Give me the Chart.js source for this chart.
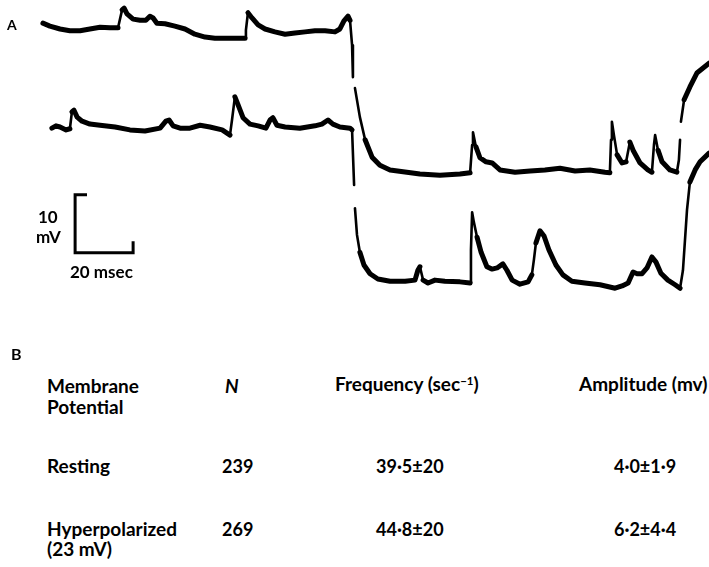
<!DOCTYPE html>
<html>
<head>
<meta charset="utf-8">
<script src="https://cdn.jsdelivr.net/npm/chart.js@4/dist/chart.umd.min.js"></script>
<style>
  html, body { margin: 0; padding: 0; background: #fff; }
  body { width: 709px; height: 567px; position: relative; overflow: hidden; font-family: Lato, "Open Sans", sans-serif; color: #000; }
  #wrap { position: absolute; left: 0; top: 0; width: 709px; height: 330px; }
  .t { position: absolute; white-space: nowrap; font-weight: 700; line-height: 1; }
  sup { font-size: 60%; vertical-align: 0; position: relative; top: -0.55em; }
</style>
</head>
<body>
<div id="wrap"><canvas id="c" width="709" height="330"></canvas></div>
<div id="labels"></div>
<script>
// ---- Panel A: two intracellular traces (time in ms, potential in mV, display offsets) ----
const trace1Time = [14.8,17.2,20.7,24.1,27.6,31.0,34.5,37.9,40.7,42.1,42.8,43.8,45.9,48.3,50.3,51.7,52.8,54.1,56.9,60.3,63.8,67.2,70.7,74.1,79.3,84.5,84.8,85.5,86.9,89.0,91.4,94.8,98.3,101.7,105.2,108.6,112.1,115.5,117.2,118.6,120.0,120.7,121.4,121.7,122.0,122.4,124.1,125.9,128.3,131.0,134.5,140.3,144.8,151.7,158.6,162.1,162.8,163.1,164.1,165.5,167.6,169.7,172.4,177.6,182.8,187.9,193.1,198.3,203.4,208.6,210.3,210.7,211.0,211.7,212.8,214.5,215.9,217.2,218.3,220.7,223.4,224.8,225.5,225.9,226.9,228.3,231.0,233.4,234.1,234.5,234.6,234.8,235.9,237.9,240.3,244.5];
const trace1Volt = [52.9,52.4,51.9,51.6,51.6,51.9,52.2,52.1,52.1,55.2,55.5,54.5,53.6,53.4,53.4,54.1,53.8,52.9,52.8,52.4,51.9,51.0,50.5,50.3,50.3,50.3,51.7,54.7,53.8,52.6,51.9,51.4,51.0,51.2,51.4,51.6,51.6,51.4,51.9,53.3,54.1,53.4,49.1,43.6,null,41.7,36.7,32.8,29.8,28.4,27.6,27.2,26.9,26.7,26.9,27.1,31.9,34.1,31.6,29.7,29.0,28.8,27.6,27.2,27.4,27.6,27.9,27.4,27.6,27.2,27.1,32.8,35.9,33.6,30.2,28.8,29.0,32.4,31.0,28.8,27.6,27.2,31.9,33.6,31.0,29.0,27.6,27.2,29.3,32.8,null,35.9,39.7,41.9,44.3,46.0];

const trace2Time = [17.9,19.3,20.7,22.8,24.1,24.8,25.5,26.6,28.3,31.0,34.5,39.7,44.8,50.0,55.2,57.2,58.3,59.7,62.1,65.5,69.0,72.4,76.6,79.3,80.0,81.0,82.1,83.8,86.2,89.0,91.7,93.1,94.1,95.5,98.3,103.4,108.6,111.0,113.1,114.8,117.2,120.7,121.4,122.1,122.3,122.4,123.1,124.1,125.5,127.6,130.3,134.5,139.7,143.1,144.1,144.8,145.9,147.6,150.0,153.4,158.6,162.1,162.4,162.8,163.4,164.5,165.9,167.9,169.7,171.4,173.4,174.8,176.6,179.3,182.1,183.4,184.1,184.8,186.2,187.6,189.3,191.7,194.1,197.2,201.7,206.9,212.1,214.5,216.6,218.3,219.7,221.4,223.1,224.8,226.2,227.9,230.3,232.8,234.5,235.5,236.2,236.9,237.9,239.7,241.4,244.5];
const trace2Volt = [34.8,35.2,35.0,34.5,34.7,37.6,37.9,36.7,36.0,35.5,35.3,35.0,34.5,34.3,34.8,36.0,36.2,35.2,34.8,34.8,35.3,35.0,34.5,33.6,36.2,40.2,38.8,36.6,35.5,35.2,34.8,36.2,36.6,35.3,35.0,34.8,35.2,35.5,36.2,35.5,35.0,34.8,34.5,25.0,null,21.0,16.4,13.4,11.2,9.7,8.8,8.4,8.4,8.6,10.3,10.9,8.6,8.1,8.6,8.4,8.3,8.1,13.8,20.3,18.6,16.0,13.4,10.9,10.5,10.7,11.4,10.3,8.6,7.9,8.3,9.5,12.1,15.0,17.1,16.2,13.8,11.2,9.5,8.4,8.1,7.8,7.2,7.6,8.1,10.0,9.7,9.7,10.7,12.6,11.7,9.8,8.6,7.8,7.2,10.3,15.5,20.7,25.5,27.6,29.0,30.5];

// Calibration bar: 10 mV by 20 msec
const barTime = [30.0, 25.9, 25.9, 45.9, 45.9];
const barVolt = [23.3, 23.3, 13.3, 13.3, 15.3];
const barLabels = ["10", "mV", "20 msec"];

// ---- Panel B: table ----
const tableHeaders = ["Membrane\nPotential", "N", "Frequency (sec-1)", "Amplitude (mv)"];
const conditions = ["Resting", "Hyperpolarized\n(23 mV)"];
const nValues = ["239", "269"];
const frequencies = ["39\u00B75\u00B120", "44\u00B78\u00B120"];
const amplitudes = ["4\u00B70\u00B11\u00B79", "6\u00B72\u00B14\u00B74"];

const pts = (t, v) => t.map((x, i) => ({ x: x, y: v[i] }));
const thinSteep = {
  borderWidth: ctx => {
    const dx = Math.abs(ctx.p1.x - ctx.p0.x), dy = Math.abs(ctx.p1.y - ctx.p0.y);
    return (dy > 4 * dx && dy > 8) ? 2.6 : undefined;
  }
};
const lineStyle = {
  borderColor: '#000', backgroundColor: '#000', pointRadius: 0, tension: 0,
  fill: false, clip: false, borderCapStyle: 'round', borderJoinStyle: 'round', spanGaps: false
};

new Chart(document.getElementById('c'), {
  type: 'line',
  data: {
    datasets: [
      Object.assign({ label: 'Trace 1', data: pts(trace1Time, trace1Volt), borderWidth: 5, segment: thinSteep }, lineStyle),
      Object.assign({ label: 'Trace 2', data: pts(trace2Time, trace2Volt), borderWidth: 5, segment: thinSteep }, lineStyle),
      Object.assign({}, lineStyle, { label: 'Calibration', data: pts(barTime, barVolt), borderWidth: 3, borderCapStyle: 'butt', borderJoinStyle: 'miter' })
    ]
  },
  options: {
    responsive: false,
    animation: false,
    devicePixelRatio: 1,
    layout: { padding: 0 },
    plugins: { legend: { display: false }, tooltip: { enabled: false }, colors: { enabled: false } },
    scales: {
      x: { type: 'linear', min: 0, max: 709 / 2.9, display: false },
      y: { type: 'linear', min: 0, max: 330 / 5.8, display: false }
    }
  }
});

// ---- text placement ----
const L = document.getElementById('labels');
function put(html, x, base, size, extra) {
  const d = document.createElement('div');
  d.className = 't';
  d.style.left = x + 'px';
  d.style.top = (base - Math.round(size * 0.89)) + 'px';
  d.style.fontSize = size + 'px';
  if (extra) d.style.cssText += extra;
  d.innerHTML = html;
  L.appendChild(d);
}
put('A', 7, 30, 14);
put(barLabels[0], 38, 223, 17);
put(barLabels[1], 36, 243, 17);
put(barLabels[2], 70, 278, 17);

put('B', 11, 360, 16);
const hs = 19, ns = 18;
const h0 = tableHeaders[0].split('\n');
put(h0[0], 47, 393, hs);
put(h0[1], 47, 414, hs);
put(tableHeaders[1], 225, 393, hs, 'font-style:italic;');
put(tableHeaders[2].replace('sec-1', 'sec<sup>\u22121</sup>'), 335, 391, hs);
put(tableHeaders[3], 579, 391, hs);
const rowBase = [473, 536];
conditions.forEach((c, i) => {
  const parts = c.split('\n');
  put(parts[0], 47, rowBase[i], hs);
  if (parts[1]) put(parts[1], 47, rowBase[i] + 20, hs);
  put(nValues[i], 222, rowBase[i], ns);
  put(frequencies[i], 376, rowBase[i], ns);
  put(amplitudes[i], 614, rowBase[i], ns);
});
</script>
</body>
</html>
